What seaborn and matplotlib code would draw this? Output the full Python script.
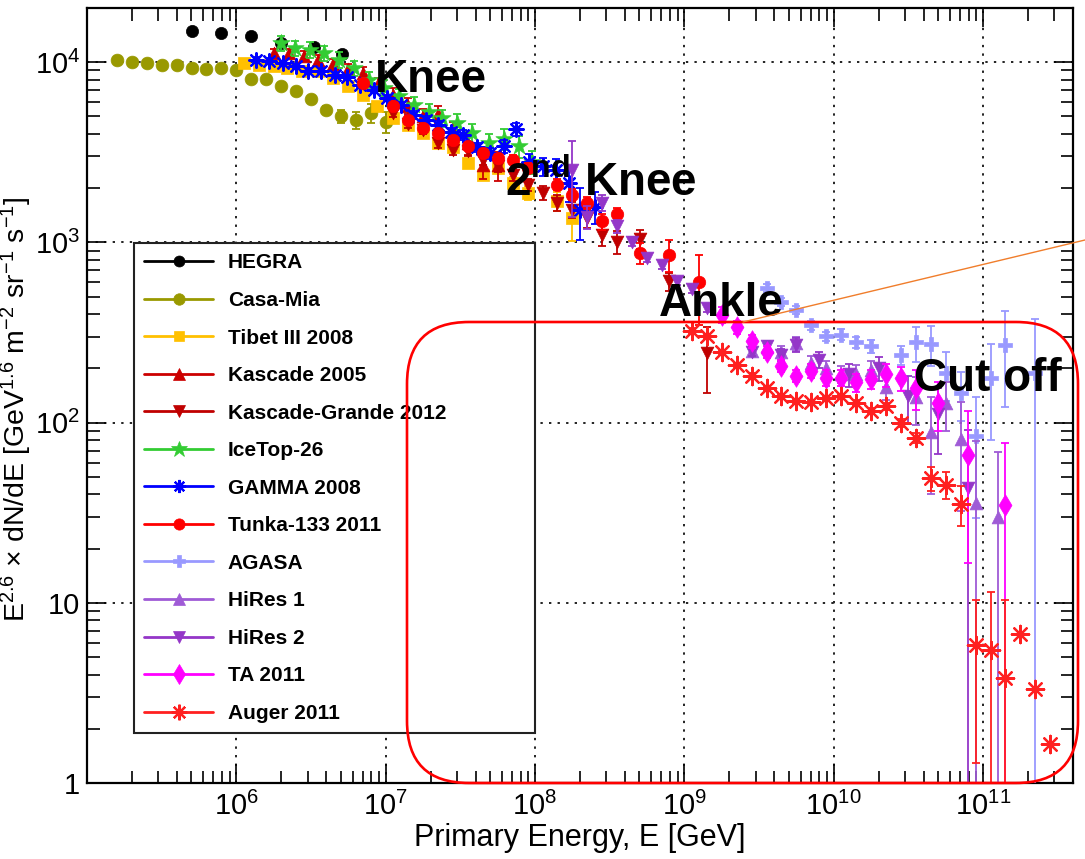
import numpy as np
import pandas as pd
import matplotlib
matplotlib.use("Agg")
import matplotlib.pyplot as plt
from matplotlib.lines import Line2D
from matplotlib.patches import FancyBboxPatch
from matplotlib.ticker import FixedLocator, LogLocator, NullFormatter, FuncFormatter
from matplotlib.transforms import IdentityTransform
import seaborn as sns

# ------------------------------------------------------------------
# All-particle cosmic-ray spectrum, E^2.6 dN/dE  [GeV^1.6 m^-2 sr^-1 s^-1]
# energies stored as log10(E / GeV); errors as relative (fractional) sigma
# ------------------------------------------------------------------
hegra_logE = [5.70, 5.90, 6.10, 6.30, 6.52, 6.71]
hegra_flux = [14830, 14520, 14030, 12820, 12190, 11140]
hegra_err = [0.03, 0.03, 0.03, 0.03, 0.03, 0.03]

casamia_logE = [5.2, 5.3, 5.4, 5.5, 5.6, 5.7, 5.8, 5.9, 6.0, 6.1, 6.2, 6.3, 6.4,
                6.5, 6.6, 6.7, 6.8, 6.9, 7.0]
casamia_flux = [10330, 10020, 9910, 9680, 9680, 9290, 9200, 9290, 9020, 8090, 8090,
                7350, 6950, 6250, 5460, 5010, 4760, 5250, 4680]
casamia_err = [0.02, 0.02, 0.02, 0.02, 0.02, 0.02, 0.02, 0.02, 0.02, 0.02, 0.02,
               0.03, 0.03, 0.04, 0.05, 0.08, 0.11, 0.12, 0.13]

tibet_logE = [6.05, 6.15, 6.25, 6.34, 6.44, 6.55, 6.65, 6.75, 6.85, 6.94, 7.05,
              7.15, 7.25, 7.35, 7.45, 7.55, 7.65, 7.75, 7.85, 7.95, 8.15, 8.25]
tibet_flux = [9910, 9680, 9480, 9290, 8890, 8890, 8170, 7410, 6610, 5740, 4920,
              4500, 4060, 3570, 3400, 2770, 2380, 2600, 2140, 1890, 1700, 1360]
tibet_err = [0.02, 0.02, 0.02, 0.02, 0.02, 0.02, 0.02, 0.02, 0.03, 0.03, 0.03,
             0.03, 0.04, 0.04, 0.05, 0.05, 0.06, 0.07, 0.08, 0.09, 0.12, 0.25]

kascade_logE = [6.25, 6.35, 6.45, 6.55, 6.65, 6.75, 6.85, 6.95, 7.05, 7.15, 7.25,
                7.35, 7.45, 7.55, 7.65, 7.75]
kascade_flux = [11220, 11220, 10840, 10350, 9770, 9120, 8710, 7590, 6610, 5750,
                5010, 5130, 4170, 3550, 2690, 2690]
kascade_err = [0.05, 0.05, 0.06, 0.06, 0.07, 0.07, 0.08, 0.08, 0.09, 0.10, 0.10,
               0.12, 0.12, 0.14, 0.16, 0.18]

kgrande_logE = [7.05, 7.15, 7.25, 7.35, 7.45, 7.55, 7.65, 7.75, 7.85, 7.95, 8.05,
                8.15, 8.25, 8.35, 8.45, 8.55, 8.70, 8.90, 9.15]
kgrande_flux = [5250, 4570, 4220, 3560, 3270, 3200, 2880, 2640, 2380, 2090, 1880,
                1660, 1520, 1360, 1100, 1010, 1040, 608, 243]
kgrande_err = [0.05, 0.05, 0.05, 0.06, 0.06, 0.06, 0.07, 0.07, 0.08, 0.08, 0.09,
               0.10, 0.10, 0.12, 0.13, 0.15, 0.12, 0.12, 0.40]

icetop_logE = [6.30, 6.39, 6.49, 6.59, 6.69, 6.79, 6.89, 6.99, 7.09, 7.19, 7.29,
               7.38, 7.48, 7.58, 7.69, 7.79, 7.89, 7.98]
icetop_flux = [12790, 11990, 11720, 11250, 10330, 9290, 8000, 7240, 6460, 5810,
               5310, 4900, 4600, 4050, 3560, 3750, 3410, 2810]
icetop_err = [0.10, 0.10, 0.10, 0.10, 0.10, 0.10, 0.10, 0.10, 0.10, 0.11, 0.11,
              0.11, 0.12, 0.12, 0.12, 0.13, 0.14, 0.15]

gamma_logE = [6.13, 6.22, 6.31, 6.40, 6.48, 6.57, 6.66, 6.74, 6.83, 6.92, 7.01,
              7.10, 7.18, 7.27, 7.35, 7.44, 7.52, 7.61, 7.70, 7.79, 7.87, 7.96,
              8.05, 8.14, 8.23, 8.30, 8.40]
gamma_flux = [10330, 10190, 9910, 9480, 8990, 8970, 8530, 8280, 7500, 7030, 6320,
              5810, 5120, 4800, 4500, 4100, 3960, 3380, 3130, 3410, 4260, 2810,
              2640, 2530, 2140, 1520, 1580]
gamma_err = [0.03, 0.03, 0.03, 0.03, 0.03, 0.03, 0.03, 0.03, 0.04, 0.04, 0.04,
             0.04, 0.05, 0.05, 0.05, 0.05, 0.06, 0.06, 0.07, 0.08, 0.08, 0.10,
             0.12, 0.15, 0.22, 0.32, 0.20]

tunka_logE = [6.85, 7.05, 7.15, 7.25, 7.35, 7.45, 7.55, 7.65, 7.75, 7.85, 7.95,
              8.15, 8.25, 8.35, 8.45, 8.55, 8.70, 8.90, 9.10]
tunka_flux = [7670, 5690, 4800, 4320, 4050, 3720, 3410, 3130, 2940, 2880, 2590,
              2090, 1840, 1660, 1310, 1430, 873, 855, 600]
tunka_err = [0.05, 0.05, 0.05, 0.05, 0.05, 0.05, 0.05, 0.05, 0.05, 0.06, 0.06,
             0.07, 0.07, 0.08, 0.10, 0.08, 0.13, 0.20, 0.42]

agasa_logE = [9.55, 9.65, 9.75, 9.85, 9.95, 10.05, 10.15, 10.25, 10.45, 10.55,
              10.65, 10.75, 10.85, 10.95, 11.05, 11.15, 11.35]
agasa_flux = [558, 469, 424, 347, 302, 308, 279, 265, 238, 279, 274, 189, 146, 84,
              177, 270, 188]
agasa_err = [0.05, 0.05, 0.05, 0.06, 0.06, 0.07, 0.07, 0.08, 0.12, 0.22, 0.25,
             0.30, 0.30, 0.65, 0.55, 0.55, 1.00]

hires1_logE = [9.45, 9.55, 9.65, 9.75, 9.85, 9.95, 10.05, 10.15, 10.25, 10.35,
               10.55, 10.65, 10.75, 10.85, 10.95, 11.10]
hires1_flux = [251, 263, 245, 275, 214, 200, 186, 186, 195, 158, 138, 89, 129, 81,
               36, 30]
hires1_err = [0.08, 0.08, 0.09, 0.09, 0.10, 0.10, 0.11, 0.12, 0.12, 0.15, 0.30,
              0.55, 0.30, 0.60, 1.20, 1.30]

hires2_logE = [8.25, 8.35, 8.45, 8.55, 8.65, 8.75, 8.85, 8.95, 9.05, 9.15, 9.45,
               9.55, 9.65, 9.75, 9.90, 10.10, 10.30, 10.50, 10.70, 10.90]
hires2_flux = [2530, 1390, 1660, 1230, 1010, 818, 752, 608, 550, 433, 248, 265,
               238, 270, 223, 185, 201, 140, 111, 43.4]
hires2_err = [0.45, 0.15, 0.10, 0.08, 0.06, 0.05, 0.05, 0.05, 0.05, 0.05, 0.06,
              0.07, 0.08, 0.09, 0.10, 0.15, 0.15, 0.30, 0.40, 1.10]

ta_logE = [9.25, 9.35, 9.45, 9.55, 9.65, 9.75, 9.85, 9.95, 10.05, 10.15, 10.25,
           10.35, 10.45, 10.55, 10.70, 10.90, 11.15]
ta_flux = [397, 338, 282, 248, 207, 182, 194, 177, 177, 167, 175, 185, 177, 156,
           129, 66.4, 35.0]
ta_err = [0.10, 0.08, 0.08, 0.08, 0.08, 0.08, 0.09, 0.10, 0.10, 0.11, 0.12, 0.15,
          0.15, 0.25, 0.30, 0.75, 1.20]

auger_logE = [9.05, 9.15, 9.25, 9.35, 9.45, 9.55, 9.65, 9.75, 9.85, 9.95, 10.05,
              10.15, 10.25, 10.35, 10.45, 10.55, 10.65, 10.75, 10.85, 10.95,
              11.05, 11.15, 11.25, 11.35, 11.45]
auger_flux = [324, 301, 246, 209, 182, 156, 140, 132, 130, 137, 140, 129, 116, 123,
              99.5, 82.4, 49.3, 45.2, 35.5, 5.86, 5.44, 3.83, 6.71, 3.33, 1.64]
auger_err = [0.03, 0.03, 0.03, 0.03, 0.03, 0.03, 0.03, 0.03, 0.03, 0.03, 0.03,
             0.04, 0.04, 0.04, 0.05, 0.06, 0.15, 0.17, 0.25, 0.78, 1.10, 1.70,
             0.0, 0.0, 0.0]

# label, logE, flux, err, colour, marker, marker size (pt), edge width
experiments = [
    ("HEGRA", hegra_logE, hegra_flux, hegra_err, "#000000", "o", 8.8, 0.5),
    ("Casa-Mia", casamia_logE, casamia_flux, casamia_err, "#999900", "o", 9.2, 0.5),
    ("Tibet III 2008", tibet_logE, tibet_flux, tibet_err, "#FFC000", "s", 8.2, 0.5),
    ("Kascade 2005", kascade_logE, kascade_flux, kascade_err, "#CC0000", "^", 9.2, 0.5),
    ("Kascade-Grande 2012", kgrande_logE, kgrande_flux, kgrande_err, "#C00000", "v", 9.2, 0.5),
    ("IceTop-26", icetop_logE, icetop_flux, icetop_err, "#33CC33", "*", 13.0, 0.5),
    ("GAMMA 2008", gamma_logE, gamma_flux, gamma_err, "#0000FF", (8, 2, 0), 10.5, 1.6),
    ("Tunka-133 2011", tunka_logE, tunka_flux, tunka_err, "#FF0000", "o", 9.0, 0.5),
    ("AGASA", agasa_logE, agasa_flux, agasa_err, "#9999FF", "P", 9.5, 0.5),
    ("HiRes 1", hires1_logE, hires1_flux, hires1_err, "#9F5BD6", "^", 9.2, 0.5),
    ("HiRes 2", hires2_logE, hires2_flux, hires2_err, "#9436C8", "v", 9.2, 0.5),
    ("TA 2011", ta_logE, ta_flux, ta_err, "#FF00FF", "d", 11.0, 0.5),
    ("Auger 2011", auger_logE, auger_flux, auger_err, "#FF2020", (8, 2, 0), 12.5, 1.6),
]

rows = []
for label, logE, flux, err, *_ in experiments:
    for le, f, e in zip(logE, flux, err):
        rows.append({"experiment": label, "E": 10.0 ** le, "flux": f, "rel_err": e})
df = pd.DataFrame(rows)

# ------------------------------------------------------------------
sns.set_style("ticks")
plt.rcParams["font.family"] = ["Liberation Sans", "DejaVu Sans"]
plt.rcParams["mathtext.fontset"] = "custom"
plt.rcParams["mathtext.rm"] = "Liberation Sans"
plt.rcParams["mathtext.bf"] = "Liberation Sans:bold"
plt.rcParams["mathtext.default"] = "regular"
for key in ("text.color", "axes.labelcolor", "xtick.color", "ytick.color",
            "axes.edgecolor"):
    plt.rcParams[key] = "black"

W, H = 1085, 859
fig = plt.figure(figsize=(W / 100, H / 100), dpi=100)
fig.patch.set_facecolor("white")
ax = fig.add_axes([87 / W, (H - 783) / H, 986 / W, 775 / H])
ax.set_xscale("log")
ax.set_yscale("log")
ax.set_xlim(1.0e5, 4.0e11)
ax.set_ylim(1.0, 2.0e4)

for z, (label, logE, flux, err, color, marker, ms, mew) in enumerate(experiments):
    sub = df[df["experiment"] == label]
    E = sub["E"].to_numpy()
    F = sub["flux"].to_numpy()
    rel = sub["rel_err"].to_numpy()
    has = rel > 0
    if has.any():
        lower = np.maximum(F * (1 - rel), 1e-3)
        upper = F * (1 + rel)
        ax.errorbar(E[has], F[has], yerr=[(F - lower)[has], (upper - F)[has]],
                    fmt="none", ecolor=color, elinewidth=1.3, capsize=2.8,
                    capthick=1.3, zorder=3 + z * 0.1)
    sns.scatterplot(x=E, y=F, marker=marker, s=ms ** 2, color=color,
                    edgecolor=color, linewidth=mew, ax=ax, legend=False,
                    zorder=3.05 + z * 0.1)

# grid and frame
ax.grid(True, which="major", linestyle=(0, (1.2, 3.2)), color="#222222", linewidth=1.4)
ax.grid(False, which="minor")
ax.set_axisbelow(True)
for sp in ax.spines.values():
    sp.set_linewidth(1.6)
    sp.set_color("black")
    sp.set_visible(True)

ax.xaxis.set_major_locator(FixedLocator([10.0 ** k for k in range(5, 12)]))
ax.xaxis.set_minor_locator(LogLocator(base=10, subs=np.arange(2, 10), numticks=30))
ax.yaxis.set_major_locator(FixedLocator([1, 10, 100, 1e3, 1e4]))
ax.yaxis.set_minor_locator(LogLocator(base=10, subs=np.arange(2, 10), numticks=30))
ax.xaxis.set_minor_formatter(NullFormatter())
ax.yaxis.set_minor_formatter(NullFormatter())


def xfmt(v, pos):
    k = int(round(np.log10(v)))
    return "" if k <= 5 else r"$10^{%d}$" % k


def yfmt(v, pos):
    k = int(round(np.log10(v)))
    if k == 0:
        return "1"
    if k == 1:
        return "10"
    return r"$10^{%d}$" % k


ax.xaxis.set_major_formatter(FuncFormatter(xfmt))
ax.yaxis.set_major_formatter(FuncFormatter(yfmt))
ax.tick_params(which="both", direction="in", top=True, right=True, width=1.2,
               color="black", labelcolor="black")
ax.tick_params(which="major", length=14, labelsize=21, pad=6)
ax.tick_params(axis="y", which="major", pad=5)
ax.tick_params(which="minor", length=9)

ax.set_xlabel("Primary Energy, E [GeV]", fontsize=22, color="black")
ax.xaxis.set_label_coords(0.50, -0.052)
ax.set_ylabel(r"E$^{2.6}$ × dN/dE [GeV$^{1.6}$ m$^{-2}$ sr$^{-1}$ s$^{-1}$]",
              fontsize=20.5, color="black")
ax.yaxis.set_label_coords(-0.054, 0.482)

# feature labels
ax.text(10 ** 7.30, 10 ** 3.90, "Knee", fontsize=33, fontweight="bold",
        ha="center", va="center", zorder=10, color="black")
ax.text(10 ** 8.44, 10 ** 3.33, r"2$^{\mathbf{nd}}$ Knee", fontsize=33,
        fontweight="bold", ha="center", va="center", zorder=10, color="black")
ax.text(10 ** 9.25, 10 ** 2.66, "Ankle", fontsize=33, fontweight="bold",
        ha="center", va="center", zorder=10, color="black")
ax.text(10 ** 11.03, 10 ** 2.24, "Cut off", fontsize=33, fontweight="bold",
        ha="center", va="center", zorder=10, color="black")

# legend
handles = [Line2D([0], [0], color=c, lw=2.0, marker=m, markersize=ms * 0.9,
                  markerfacecolor=c, markeredgecolor=c, markeredgewidth=mew)
           for (_, _, _, _, c, m, ms, mew) in experiments]
labels = [e[0] for e in experiments]
leg = ax.legend(handles, labels, loc="upper left",
                bbox_to_anchor=((134 - 87) / 986, (783 - 243) / 775, 401 / 986, 0),
                mode="expand", borderaxespad=0, borderpad=0.5,
                prop={"size": 15, "weight": "bold"}, labelspacing=0.89,
                handlelength=3.3, handletextpad=0.7, frameon=True,
                fancybox=False, framealpha=1, edgecolor="#222222")
leg.get_frame().set_linewidth(1.5)
leg.set_zorder(20)
for t in leg.get_texts():
    t.set_color("black")

# highlight box around the ultra-high-energy region, and a pointer line
box = FancyBboxPatch((407, H - 783), 671, 461,
                     boxstyle="round,pad=0,rounding_size=62",
                     transform=IdentityTransform(), fill=False,
                     edgecolor="#FF0000", linewidth=1.9, zorder=30)
fig.add_artist(box)
fig.add_artist(Line2D([743, 1085], [H - 322, H - 240], transform=IdentityTransform(),
                      color="#F07D2B", linewidth=1.0, zorder=30))

fig.savefig("out.png", dpi=100, facecolor="white")
